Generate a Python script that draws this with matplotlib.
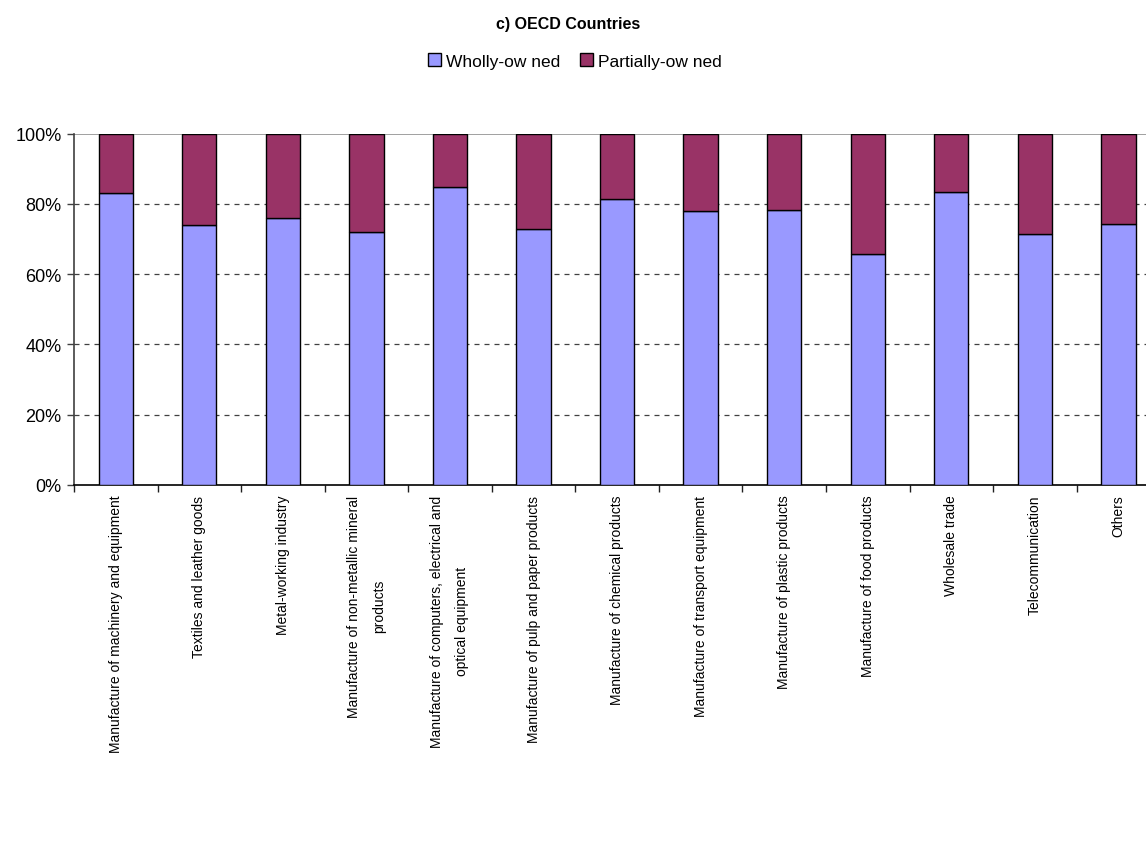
import matplotlib
matplotlib.use("Agg")
import matplotlib.pyplot as plt
import numpy as np
from matplotlib.ticker import FixedLocator, PercentFormatter
from matplotlib.patches import Patch

plt.rcParams['font.family'] = ['Liberation Sans', 'DejaVu Sans']

categories = [
    "Manufacture of machinery and equipment",
    "Textiles and leather goods",
    "Metal-working industry",
    "Manufacture of non-metallic mineral\nproducts",
    "Manufacture of computers, electrical and\noptical equipment",
    "Manufacture of pulp and paper products",
    "Manufacture of chemical products",
    "Manufacture of transport equipment",
    "Manufacture of plastic products",
    "Manufacture of food products",
    "Wholesale trade",
    "Telecommunication",
    "Others",
]
wholly = [83.0, 74.0, 76.0, 71.9, 84.9, 72.9, 81.5, 78.0, 78.4, 65.7, 83.4, 71.4, 74.4]
partially = [17.0, 26.0, 24.0, 28.1, 15.1, 27.1, 18.5, 22.0, 21.6, 34.3, 16.6, 28.6, 25.6]
series_names = ["Wholly-ow ned", "Partially-ow ned"]
yticks = [0, 20, 40, 60, 80, 100]

c_wholly = "#9999FF"
c_part = "#993366"

W, H = 1146, 845
fig = plt.figure(figsize=(W / 100, H / 100), dpi=100)
left, right = 74, 1146
bottom, top = 486, 134.7
ax = fig.add_axes([left / W, 1 - bottom / H, (right - left) / W, (bottom - top) / H])

x = np.arange(len(categories))
bw = 0.41
ax.bar(x, wholly, bw, color=c_wholly, edgecolor="black", linewidth=1.0, zorder=3)
ax.bar(x, partially, bw, bottom=wholly, color=c_part, edgecolor="black", linewidth=1.0, zorder=3)

cat_w = 83.55
ax.set_xlim(-0.5, -0.5 + (right - left) / cat_w)
ax.set_ylim(0, 100)

ax.set_yticks(yticks)
ax.yaxis.set_major_formatter(PercentFormatter(decimals=0))
ax.tick_params(axis='y', direction='out', length=5, width=1, color='#404040', labelsize=13, pad=4)

ax.set_xticks(x)
ax.set_xticklabels(categories, rotation=90, fontsize=10, va='top', ha='center',
                   multialignment='center', linespacing=2.0)
ax.tick_params(axis='x', which='major', length=0, pad=7)
ax.xaxis.set_minor_locator(FixedLocator(np.arange(-0.5, len(categories) + 0.5, 1.0)))
ax.tick_params(axis='x', which='minor', direction='out', length=5, width=1, color='#202020')

for yv in [20, 40, 60, 80]:
    ax.axhline(yv, color='#404040', linestyle=(0, (4, 4)), linewidth=0.9, zorder=1)
ax.axhline(100, color='#909090', linewidth=1.2, zorder=1)

for s in ['top', 'right']:
    ax.spines[s].set_visible(False)
ax.spines['left'].set_color('#404040')
ax.spines['left'].set_linewidth(1.2)
ax.spines['bottom'].set_color('black')
ax.spines['bottom'].set_linewidth(1.2)

fig.text(568 / W, 1 - 24.5 / H, "c) OECD Countries", ha='center', va='center',
         fontsize=11.5, fontweight='bold')

handles = [Patch(facecolor=c_wholly, edgecolor='black', linewidth=1.0),
           Patch(facecolor=c_part, edgecolor='black', linewidth=1.0)]
fig.legend(handles, series_names, loc='center', bbox_to_anchor=(575 / W, 1 - 62 / H), ncol=2,
           frameon=False, fontsize=12.5, handlelength=0.75, handleheight=0.75, handletextpad=0.3,
           columnspacing=1.1, borderaxespad=0)

fig.savefig("out.png", dpi=100)
